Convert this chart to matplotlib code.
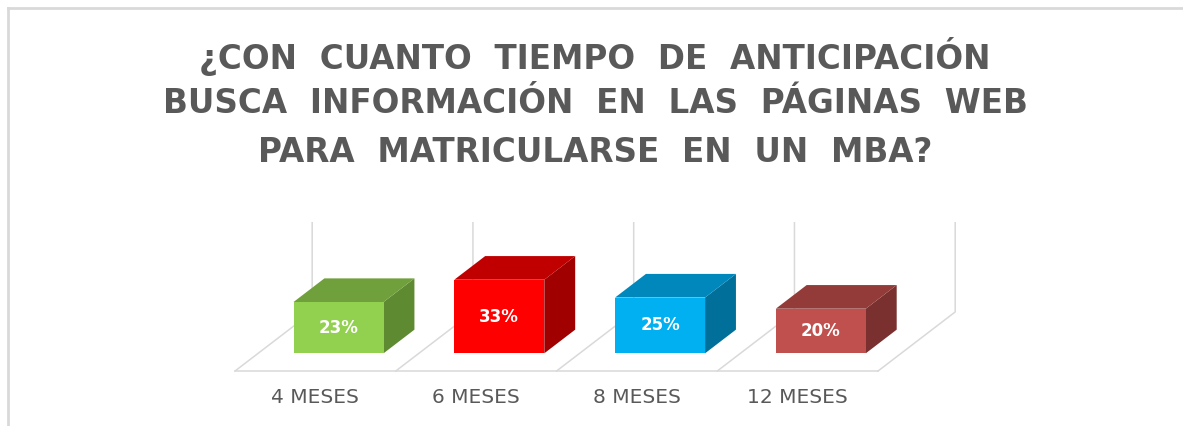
import matplotlib.pyplot as plt
from matplotlib.patches import Polygon
from matplotlib.lines import Line2D

# data
categories = ["4 MESES", "6 MESES", "8 MESES", "12 MESES"]
values = [23, 33, 25, 20]
labels = ["23%", "33%", "25%", "20%"]
title_lines = ["¿CON  CUANTO  TIEMPO  DE  ANTICIPACIÓN",
               "BUSCA  INFORMACIÓN  EN  LAS  PÁGINAS  WEB",
               "PARA  MATRICULARSE  EN  UN  MBA?"]

front_colors = ["#92D050", "#FF0000", "#00B0F0", "#C0504D"]
top_colors = ["#70A03C", "#C00000", "#0088BC", "#933B39"]
side_colors = ["#5E8A31", "#A00000", "#006F99", "#7A302F"]

GRID = "#D9D9D9"
TEXT = "#595959"

# oblique projection: depth d in [0, 1] shifts x (categories) and z (percent)
DX, DZ = 0.48, 26.5
BAR_W = 0.56
D0, D1 = 0.3, 0.7
ZMAX = 40


def proj(x, d, z):
    return x + d * DX, z + d * DZ


fig = plt.figure(figsize=(11.83, 4.26), dpi=100)
ax = fig.add_axes([0, 0, 1, 1])
ax.set_xlim(-1.962, 5.397)
ax.set_ylim(-24.66, 166.4)
ax.axis("off")

n = len(categories)
edges = [i - 0.5 for i in range(n + 1)]

# floor: front edge, depth dividers, back wall verticals
x0, y0 = proj(edges[0], 0, 0)
x1, y1 = proj(edges[-1], 0, 0)
ax.plot([x0, x1], [y0, y1], color=GRID, lw=1.1, zorder=1)
for e in edges:
    xa, ya = proj(e, 0, 0)
    xb, yb = proj(e, 1, 0)
    xc, yc = proj(e, 1, ZMAX)
    ax.plot([xa, xb, xc], [ya, yb, yc], color=GRID, lw=1.1, zorder=1)

# 3d bars
for i, v in enumerate(values):
    l, r = i - BAR_W / 2, i + BAR_W / 2
    front = [proj(l, D0, 0), proj(r, D0, 0), proj(r, D0, v), proj(l, D0, v)]
    top = [proj(l, D0, v), proj(r, D0, v), proj(r, D1, v), proj(l, D1, v)]
    side = [proj(r, D0, 0), proj(r, D1, 0), proj(r, D1, v), proj(r, D0, v)]
    ax.add_patch(Polygon(side, closed=True, fc=side_colors[i], ec="none", zorder=3))
    ax.add_patch(Polygon(top, closed=True, fc=top_colors[i], ec="none", zorder=3))
    ax.add_patch(Polygon(front, closed=True, fc=front_colors[i], ec="none", zorder=4))
    cx, cy = proj(i, D0, v / 2)
    ax.text(cx, cy, labels[i], color="white", fontsize=12, fontweight="bold",
            ha="center", va="center", zorder=5)

# category labels
for i, c in enumerate(categories):
    ax.annotate(c, xy=(i, 0), xytext=(0, -19), textcoords="offset points",
                ha="center", va="center", fontsize=14.5, color=TEXT)

# title
title_y = [0.868, 0.756, 0.643]
for line, ty in zip(title_lines, title_y):
    fig.text(0.503, ty, line, ha="center", va="center", fontsize=23.5,
             fontweight="bold", color=TEXT)

# chart border (top and left)
fig.add_artist(Line2D([8 / 1183, 1], [1 - 8 / 426, 1 - 8 / 426],
                      transform=fig.transFigure, color=GRID, lw=2))
fig.add_artist(Line2D([8 / 1183, 8 / 1183], [0, 1 - 8 / 426],
                      transform=fig.transFigure, color=GRID, lw=2))

fig.savefig("out.png", dpi=100, facecolor="white")
